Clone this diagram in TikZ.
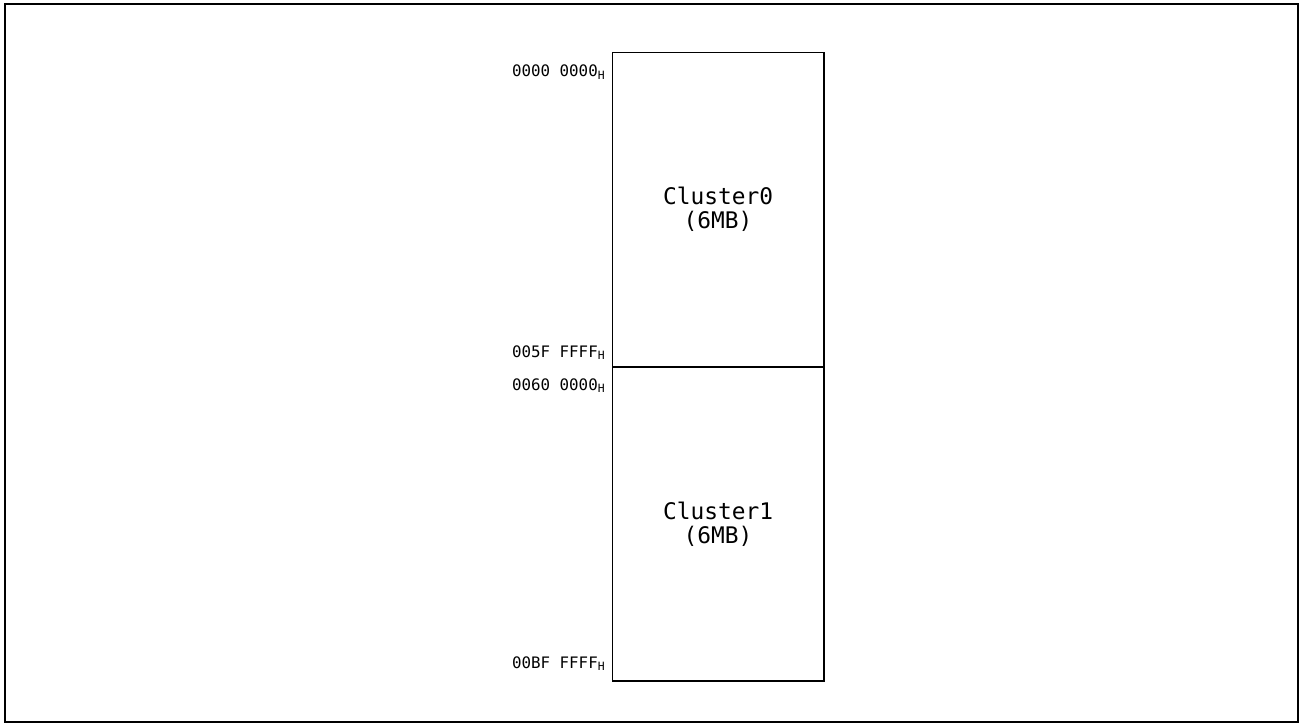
\documentclass[tikz,border=0pt]{standalone}
\usepackage{fontspec}
\setmonofont{DejaVu Sans Mono}
\usepackage{tikz}

% address text with a small subscript H
\newcommand{\addr}[1]{#1\raisebox{-0.3ex}{\fontsize{6.5}{7}\selectfont H}}

\begin{document}
\begin{tikzpicture}[x=0.02cm, y=-0.02cm,
    every node/.style={font=\ttfamily},
    cluster/.style={draw, line width=0.6pt, minimum width=4.24cm, align=center,
      font=\ttfamily\fontsize{13}{13.6}\selectfont},
    addrlabel/.style={anchor=base east, inner sep=0pt,
      font=\ttfamily\fontsize{9}{10}\selectfont}]
    % Fix the page size to the reference
    \useasboundingbox (0,0) rectangle (1300,726);

    % Outer frame
    \draw[line width=1.15pt] (5,4) rectangle (1298,722);

    % Memory blocks
    \node[cluster, minimum height=6.3cm] (c0) at (718,209.5) {Cluster0\\(6MB)};
    \node[cluster, minimum height=6.28cm] (c1) at (718,524) {Cluster1\\(6MB)};

    % Start and end addresses
    \node[addrlabel] (a0) at (605,77) {\addr{0000 0000}};
    \node[addrlabel] (a1) at (605,357) {\addr{005F FFFF}};
    \node[addrlabel] (a2) at (605,390) {\addr{0060 0000}};
    \node[addrlabel] (a3) at (605,668) {\addr{00BF FFFF}};
  \end{tikzpicture}
\end{document}
